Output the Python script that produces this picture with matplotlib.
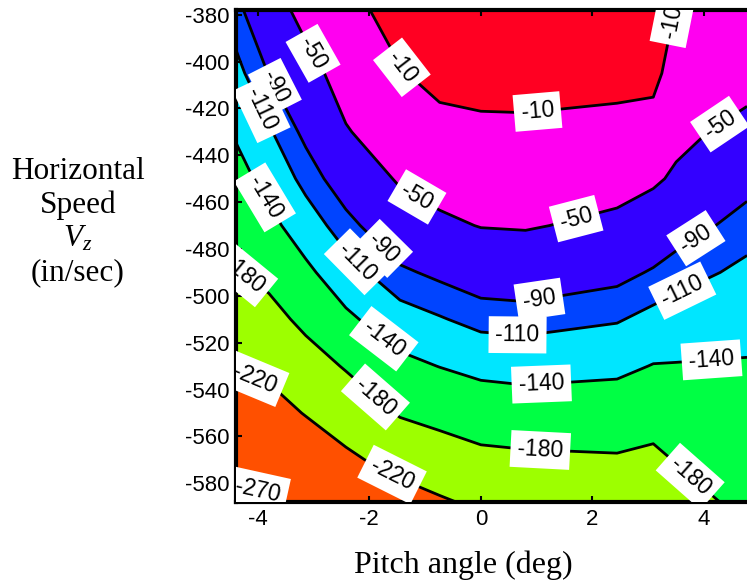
import numpy as np
import matplotlib
matplotlib.use('Agg')
import matplotlib.pyplot as plt

# pitch angle columns (deg) and speed rows (in/sec)
pitch = [-4.39, -3.8, -3.14, -2.42, -1.45, -0.74, 0.0, 0.8, 2.44, 3.09, 3.5, 4.77]
speed = [-588, -570, -550, -530, -510, -490, -470, -450, -430, -405, -378]

# value at each (speed, pitch) node
vz = [
    [-276.1, -275.0, -265.0, -248.2, -235.0, -224.0, -214.0, -209.9, -205.2, -208.8, -196.0, -170.0],
    [-257.8, -254.3, -242.8, -226.6, -207.7, -198.3, -189.1, -186.5, -183.6, -188.0, -178.2, -161.4],
    [-237.3, -233.3, -218.3, -202.3, -177.1, -169.0, -160.7, -157.4, -158.3, -164.7, -159.9, -151.9],
    [-217.3, -212.4, -195.4, -177.3, -148.6, -139.3, -131.0, -128.2, -133.0, -141.2, -141.6, -142.4],
    [-199.6, -191.7, -171.8, -146.2, -120.9, -112.0, -102.1, -100.4, -107.9, -117.6, -121.6, -129.6],
    [-181.8, -170.5, -146.7, -120.8, -94.2, -84.7, -75.2, -72.8, -82.3, -92.5, -100.4, -115.8],
    [-166.5, -148.7, -123.5, -97.8, -68.5, -56.4, -48.8, -47.4, -57.3, -68.3, -77.8, -99.7],
    [-151.5, -129.8, -102.4, -75.1, -46.0, -36.9, -32.6, -31.6, -37.8, -45.1, -54.9, -80.9],
    [-136.5, -112.9, -83.9, -52.3, -31.0, -20.1, -16.5, -15.8, -20.5, -24.5, -41.2, -60.8],
    [-117.6, -89.0, -62.2, -36.0, -12.2, 0.0, 2.0, 2.0, 1.0, 0.0, -26.7, -36.0],
    [-97.0, -66.0, -38.7, -22.0, 5.0, 4.0, 6.0, 6.0, 5.0, 3.0, -11.0, -15.0],
]

levels = [-270, -220, -180, -140, -110, -90, -50, -10]

fill_colors = ['#ff0010', '#ff5000', '#9dff00', '#00ff44', '#00e6ff',
               '#0044ff', '#3300ff', '#ff00f0', '#ff0022']

# where the contour labels sit
label_spots = [
    (-1.49, -404), (1.02, -422.7), (3.66, -384),
    (-3.12, -398), (-1.2, -460), (1.74, -470), (4.29, -427),
    (-3.78, -412), (-1.74, -479.6), (1.06, -503), (3.87, -476),
    (-3.96, -420.6), (-2.24, -486), (0.65, -518.9), (3.69, -501.8),
    (-3.86, -457.8), (-1.76, -518.9), (1.09, -539.4), (4.14, -529.6),
    (-4.13, -486.8), (-1.94, -544.5), (1.06, -568.5), (3.8, -575.7),
    (-3.96, -528.7), (-1.58, -575.7),
    (-3.96, -575.7),
]

plt.rcParams['font.family'] = 'Liberation Sans'
plt.rcParams['axes.unicode_minus'] = False
plt.rcParams['mathtext.fontset'] = 'custom'
plt.rcParams['mathtext.rm'] = 'Liberation Serif'
plt.rcParams['mathtext.it'] = 'Liberation Serif:italic'

Z = np.array(vz)

fig = plt.figure(figsize=(7.47, 5.83), dpi=100)
ax = fig.add_axes([236 / 747, 1 - 502 / 583, 1 - 236 / 747, 492 / 583])

ax.contourf(pitch, speed, Z, levels=[-1000] + levels + [1000], colors=fill_colors)
cl = ax.contour(pitch, speed, Z, levels=levels, colors='k', linewidths=2,
                linestyles='solid')
txts = ax.clabel(cl, fmt='%d', manual=label_spots, inline=False, fontsize=16.5)
for t in txts:
    t.set_bbox(dict(boxstyle='square,pad=0.3', fc='white', ec='none'))
    t.set_clip_on(True)

ax.set_xlim(-4.39, 4.77)
ax.set_ylim(-588, -378)
ax.set_xticks([-4, -2, 0, 2, 4])
ax.set_yticks(np.arange(-580, -379, 20))
ax.tick_params(direction='in', length=4, width=1.5, top=True, labelsize=16, pad=5)
for s in ['left', 'bottom', 'top']:
    ax.spines[s].set_linewidth(3)
ax.spines['right'].set_visible(False)

fig.text(463 / 747, 1 - 565 / 583, 'Pitch angle (deg)', family='Liberation Serif',
         fontsize=23, ha='center', va='center')
fig.text(78 / 747, 1 - 222 / 583, 'Horizontal\nSpeed\n$V_z$\n(in/sec)',
         family='Liberation Serif', fontsize=22.5, ha='center', va='center',
         multialignment='center', linespacing=1.2)

plt.savefig('out.png', dpi=100)
